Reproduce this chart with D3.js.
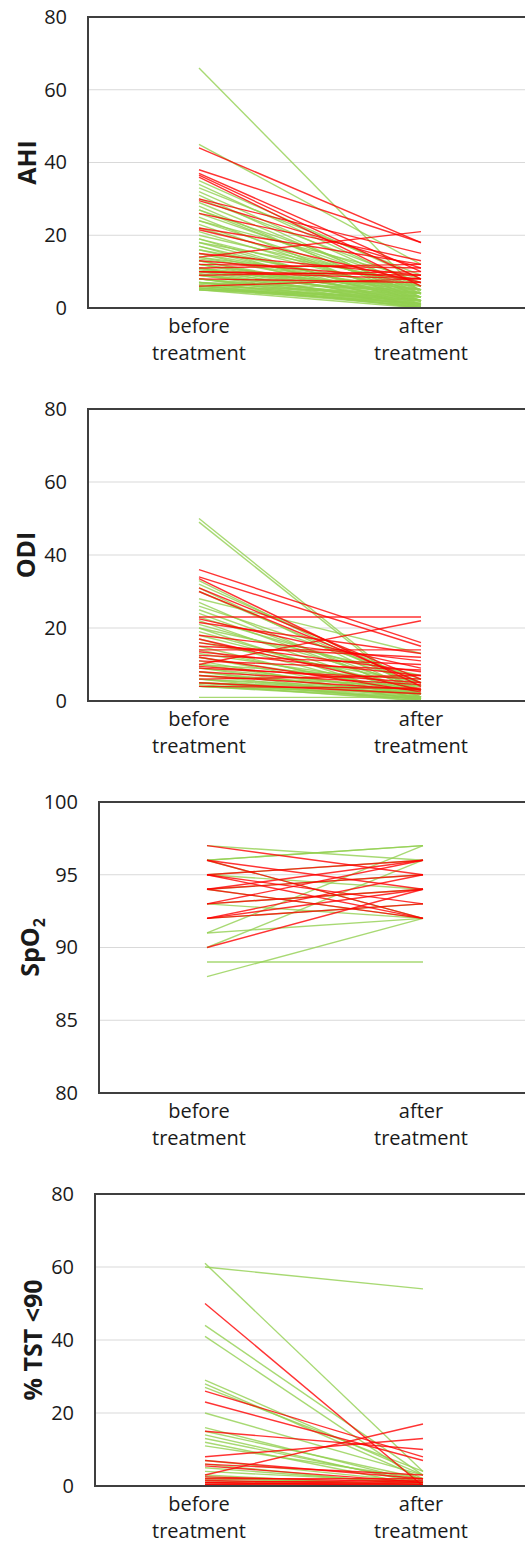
<!DOCTYPE html>
<html>
<head>
<meta charset="utf-8">
<script src="https://cdn.jsdelivr.net/npm/d3@7"></script>
<style>
  body { margin: 0; background: #fff; }
  text { font-family: "Open Sans", sans-serif; fill: #1a1a1a; }
</style>
</head>
<body>
<div id="chart"></div>
<script>
// paired before/after values, one line per patient
const categories = ['before treatment', 'after treatment'];

// AHI
const ahiGreenBefore = [66, 45, 35, 34, 33, 32, 31, 30, 29, 28, 27, 27, 26, 25, 24, 24, 23, 22, 21, 20, 19, 19, 18, 18, 17, 17, 16, 16, 15, 15, 14, 14, 13, 13, 12, 12, 12, 11, 11, 11, 10, 10, 10, 9, 9, 9, 8, 8, 8, 8, 7, 7, 7, 7, 6, 6, 6, 6, 5.5, 5.5, 5, 5, 5, 5.5, 6.5, 9.5, 10.5, 13.5];
const ahiGreenAfter  = [4, 12, 8, 6, 9, 5, 3, 7, 4, 2, 6, 3, 5, 1, 4, 8, 2, 5, 3, 6, 1, 4, 2, 7, 3, 0, 5, 2, 4, 1, 3, 6, 0.5, 2, 4, 1, 3, 5, 0, 2, 3, 1, 6, 2, 0.5, 4, 1, 3, 0, 2, 5, 1, 3, 0, 2, 1, 0.5, 4, 1, 2, 0, 1.5, 3, 0.5, 2, 1, 4, 5];
const ahiRedBefore = [44, 38, 37, 36.5, 36, 30, 29.5, 26, 22, 21.5, 15, 14, 13, 12, 11, 10, 10, 9, 8, 6];
const ahiRedAfter  = [18, 18, 10, 8, 6, 15, 11, 13, 12, 7, 9, 21, 8, 11, 12, 9, 8, 10, 7, 8];

// ODI
const odiGreenBefore = [50, 49, 33, 32, 31, 30, 28, 27, 26, 25, 24, 23, 22, 21, 20, 20, 19, 18, 17, 16, 15, 14, 13, 12, 12, 11, 10, 10, 9, 9, 8, 8, 7, 7, 6, 6, 6, 5, 5, 5, 5, 4.5, 4, 4, 4, 1];
const odiGreenAfter  = [1, 0.5, 3, 5, 2, 4, 13, 1, 6, 3, 2, 5, 1, 4, 0, 7, 2, 3, 1, 5, 0.5, 2, 4, 1, 3, 0, 2, 6, 1, 3, 0.5, 2, 4, 1, 0, 3, 2, 1, 0.5, 2, 3, 0, 1, 2, 0.5, 1];
const odiRedBefore = [36, 34, 33.5, 31, 30, 23, 22.5, 21.5, 18, 17, 16, 15, 14, 13.5, 12.5, 12, 11, 10, 9.5, 9, 8, 7, 6, 5, 4];
const odiRedAfter  = [16, 15, 4, 6, 5, 23, 9, 13, 11, 3, 8, 12, 14, 7, 10, 2.5, 8.5, 22, 5, 6, 4.5, 3, 7, 2, 3.5];

// SpO2
const spoGreenBefore = [97, 96, 96, 96, 95, 95, 94, 94, 93, 93, 92, 91, 91, 90, 89, 88];
const spoGreenAfter  = [96, 97, 92, 97, 94, 96, 92, 95, 92, 94, 93, 92, 97, 96, 89, 92];
const spoRedBefore = [97, 96, 96, 95, 95, 95, 94, 94, 94, 93, 93, 92, 92, 92, 90];
const spoRedAfter  = [95, 92, 94, 96, 93, 92, 96, 95, 92, 96, 94, 95, 94, 93, 94];

// % TST <90
const tstGreenBefore = [61, 60, 44, 41, 29, 28, 27, 20, 16, 15, 14, 13, 12, 11, 7, 6, 5, 4, 3, 2.5, 2, 1.5, 1, 0.5];
const tstGreenAfter  = [4, 54, 3, 1, 3, 2, 4, 3, 1, 2, 0.5, 1, 0, 2, 1, 0, 0.5, 1, 0, 0, 0.5, 0, 0, 0];
const tstRedBefore = [50, 26, 23, 15, 8, 7, 6, 5.5, 3, 2.5, 2, 1.5, 1, 1, 0.5, 0.5, 0];
const tstRedAfter  = [0, 8, 7, 10, 13, 2, 3, 1, 17, 1, 2, 0.5, 1.5, 0, 0.5, 1, 0];

const svgWidth = 525;
const svgHeight = 1544;

const svg = d3.select('#chart')
    .append('svg')
    .attr('width', svgWidth)
    .attr('height', svgHeight);

const panels = [
    { title: 'AHI', left: 88, top: 17, bottom: 308, x0: 199, x1: 421, domain: [0, 80], step: 20, titleX: 27,
      green: [ahiGreenBefore, ahiGreenAfter], red: [ahiRedBefore, ahiRedAfter] },
    { title: 'ODI', left: 88, top: 409, bottom: 701, x0: 199, x1: 421, domain: [0, 80], step: 20, titleX: 26,
      green: [odiGreenBefore, odiGreenAfter], red: [odiRedBefore, odiRedAfter] },
    { title: 'SpO2', left: 99, top: 802, bottom: 1093, x0: 207, x1: 423, domain: [80, 100], step: 5, titleX: 30,
      green: [spoGreenBefore, spoGreenAfter], red: [spoRedBefore, spoRedAfter] },
    { title: '% TST <90', left: 95, top: 1194, bottom: 1486, x0: 205, x1: 423, domain: [0, 80], step: 20, titleX: 33,
      green: [tstGreenBefore, tstGreenAfter], red: [tstRedBefore, tstRedAfter] }
];

panels.forEach(p => {
    const g = svg.append('g');

    const y = d3.scaleLinear().domain(p.domain).range([p.bottom, p.top]);
    const x = d3.scalePoint().domain(categories).range([p.x0, p.x1]);
    const labelX = d3.scalePoint().domain(categories).range([199, 421]);
    const ticks = d3.range(p.domain[0], p.domain[1] + 0.1, p.step);

    // gridlines (inner only)
    g.selectAll('.grid')
        .data(ticks.filter(t => t > p.domain[0] && t < p.domain[1]))
        .enter()
        .append('line')
        .attr('x1', p.left)
        .attr('x2', svgWidth)
        .attr('y1', d => y(d))
        .attr('y2', d => y(d))
        .attr('stroke', '#d9d9d9')
        .attr('stroke-width', 1.2);

    // y axis labels
    const yAxis = d3.axisLeft(y).tickValues(ticks).tickSize(0).tickPadding(0);
    const ax = g.append('g')
        .attr('transform', `translate(${p.left - 21}, 0)`)
        .call(yAxis);
    ax.select('.domain').remove();
    ax.selectAll('text')
        .style('font-family', '"Open Sans", sans-serif')
        .style('font-size', '20px')
        .attr('fill', '#1a1a1a');

    const createLine = d3.line()
        .x(d => x(d.cat))
        .y(d => y(d.value));

    function drawSet(pair, color, opacity) {
        const rows = pair[0].map((v, i) => [
            { cat: categories[0], value: v },
            { cat: categories[1], value: pair[1][i] }
        ]);
        g.append('g')
            .selectAll('path')
            .data(rows)
            .enter()
            .append('path')
            .attr('d', createLine)
            .attr('fill', 'none')
            .attr('stroke', color)
            .attr('stroke-opacity', opacity)
            .attr('stroke-width', 1.4);
    }

    drawSet(p.green, '#92d050', 0.8);
    drawSet(p.red, '#ff0000', 0.8);

    // frame: left, top, bottom (right side runs off the page)
    g.append('path')
        .attr('d', `M${svgWidth + 5},${p.top}H${p.left}V${p.bottom}H${svgWidth + 5}`)
        .attr('fill', 'none')
        .attr('stroke', '#3f3f3f')
        .attr('stroke-width', 2);

    // category labels
    categories.forEach(c => {
        const words = c.split(' ');
        const t = g.append('text')
            .attr('text-anchor', 'middle')
            .style('font-size', '20px');
        words.forEach((w, i) => {
            t.append('tspan')
                .attr('x', labelX(c))
                .attr('y', p.bottom + 25 + i * 27)
                .text(w);
        });
    });

    // y title
    const cy = (p.top + p.bottom) / 2;
    const title = g.append('text')
        .attr('transform', `translate(${p.titleX}, ${cy}) rotate(-90)`)
        .attr('text-anchor', 'middle')
        .attr('dy', '0.35em')
        .style('font-size', '25px')
        .style('font-weight', 'bold');
    if (p.title === 'SpO2') {
        title.append('tspan').text('SpO');
        title.append('tspan').attr('dy', 6).style('font-size', '16px').text('2');
    } else {
        title.text(p.title);
    }
});
</script>
</body>
</html>
